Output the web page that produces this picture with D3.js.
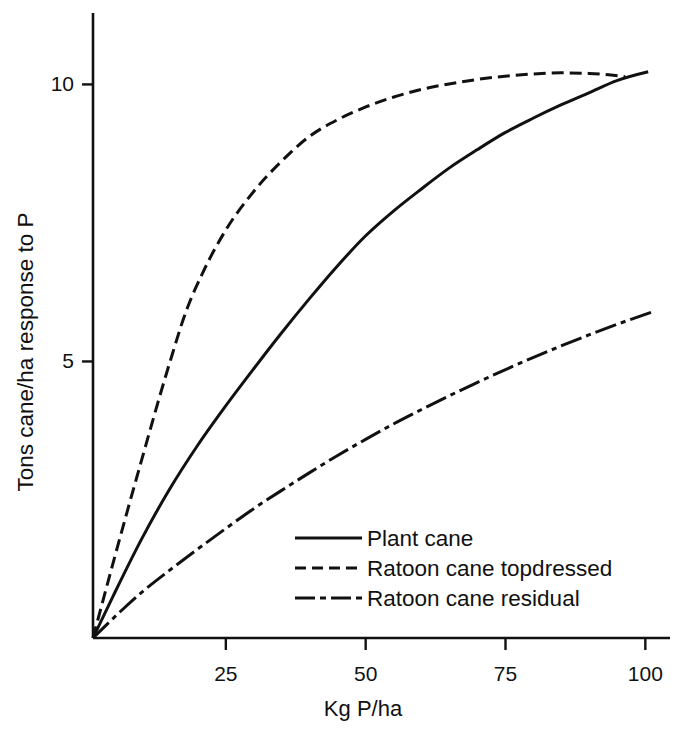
<!DOCTYPE html>
<html>
<head>
<meta charset="utf-8">
<script src="https://cdn.jsdelivr.net/npm/d3@7"></script>
<style>
  html, body { margin: 0; padding: 0; background: #fff; }
  svg { display: block; }
  text { font-family: "Liberation Sans", Arial, sans-serif; fill: #111; }
</style>
</head>
<body>
<svg id="chart" width="678" height="731"></svg>
<script>
// ---- data ----
const xTicks = [25, 50, 75, 100];
const yTicks = [5, 10];

const plantX = [0, 5, 10, 15, 20, 25, 30, 35, 40, 45, 50, 55, 60, 65, 70, 75, 80, 85, 90, 95, 100.6];
const plantY = [0, 0.77, 1.78, 2.68, 3.47, 4.18, 4.85, 5.5, 6.12, 6.71, 7.25, 7.7, 8.1, 8.48, 8.81, 9.12, 9.38, 9.62, 9.84, 10.06, 10.22];

const topX = [0, 5, 10, 15, 18, 21, 25, 30, 35, 40, 45, 50, 55, 60, 65, 70, 75, 80, 85, 90, 96.5];
const topY = [0, 1.38, 3.2, 4.95, 5.9, 6.6, 7.35, 8.05, 8.6, 9.05, 9.35, 9.58, 9.76, 9.9, 10.0, 10.08, 10.14, 10.18, 10.2, 10.19, 10.13];

const resX = [0, 5, 10, 15, 20, 25, 30, 35, 40, 45, 50, 55, 60, 65, 70, 75, 80, 85, 90, 95, 101.8];
const resY = [0, 0.36, 0.82, 1.22, 1.6, 1.97, 2.33, 2.66, 2.98, 3.29, 3.58, 3.86, 4.12, 4.37, 4.61, 4.84, 5.06, 5.27, 5.47, 5.66, 5.9];

const seriesNames = ["Plant cane", "Ratoon cane topdressed", "Ratoon cane residual"];
const xTitle = "Kg P/ha";
const yTitle = "Tons cane/ha response to P";

// ---- layout ----
const svg = d3.select("#chart");
const x = d3.scaleLinear().domain([1.34, 104.5]).range([93, 670]).clamp(true);
const y = d3.scaleLinear().domain([0, 11.28]).range([638, 13]);

const dashes = ["none", "12,6", "22,5,5,5"];
const series = [
  plantX.map((v, i) => ({x: v, y: plantY[i]})),
  topX.map((v, i) => ({x: v, y: topY[i]})),
  resX.map((v, i) => ({x: v, y: resY[i]}))
];

// axes
const xAxis = d3.axisBottom(x).tickValues(xTicks).tickSize(12).tickPadding(16).tickFormat(d3.format("d"));
const yAxis = d3.axisLeft(y).tickValues(yTicks).tickSize(11).tickPadding(8).tickFormat(d3.format("d"));

const gx = svg.append("g").attr("transform", `translate(0,${y(0)})`).call(xAxis);
const gy = svg.append("g").attr("transform", `translate(${x(1.34)},0)`).call(yAxis);
[gx, gy].forEach(g => {
  g.select(".domain").attr("stroke", "#111").attr("stroke-width", 2.6);
  g.selectAll(".tick line").attr("stroke", "#111").attr("stroke-width", 2.4);
  g.selectAll(".tick text").attr("font-size", 21).attr("fill", "#111")
    .style("font-family", "'Liberation Sans', Arial, sans-serif");
});
gx.select(".domain").attr("d", `M${x(1.34)},0H${x(104.5)}`);
gy.select(".domain").attr("d", `M0,${y(0)}V${y(11.28)}`);

// curves
const line = d3.line().x(d => x(d.x)).y(d => y(d.y)).curve(d3.curveMonotoneX);
series.forEach((s, i) => {
  svg.append("path").datum(s)
    .attr("d", line)
    .attr("fill", "none")
    .attr("stroke", "#111")
    .attr("stroke-width", 3)
    .attr("stroke-linecap", "butt")
    .attr("stroke-dasharray", dashes[i]);
});

// legend
const legendDash = ["none", "11,6", "20,5,6,5"];
const leg = svg.append("g");
seriesNames.forEach((name, i) => {
  const yy = 538 + i * 30;
  leg.append("line").attr("x1", 295).attr("x2", 362).attr("y1", yy).attr("y2", yy)
    .attr("stroke", "#111").attr("stroke-width", 3).attr("stroke-dasharray", legendDash[i]);
  leg.append("text").attr("x", 367).attr("y", yy).attr("dy", "0.36em")
    .attr("font-size", 22.5).text(name);
});

// titles
svg.append("text").attr("x", 363).attr("y", 716).attr("text-anchor", "middle")
  .attr("font-size", 22).text(xTitle);
svg.append("text").attr("transform", `translate(33,352) rotate(-90)`)
  .attr("text-anchor", "middle").attr("font-size", 22.5).text(yTitle);
</script>
</body>
</html>
